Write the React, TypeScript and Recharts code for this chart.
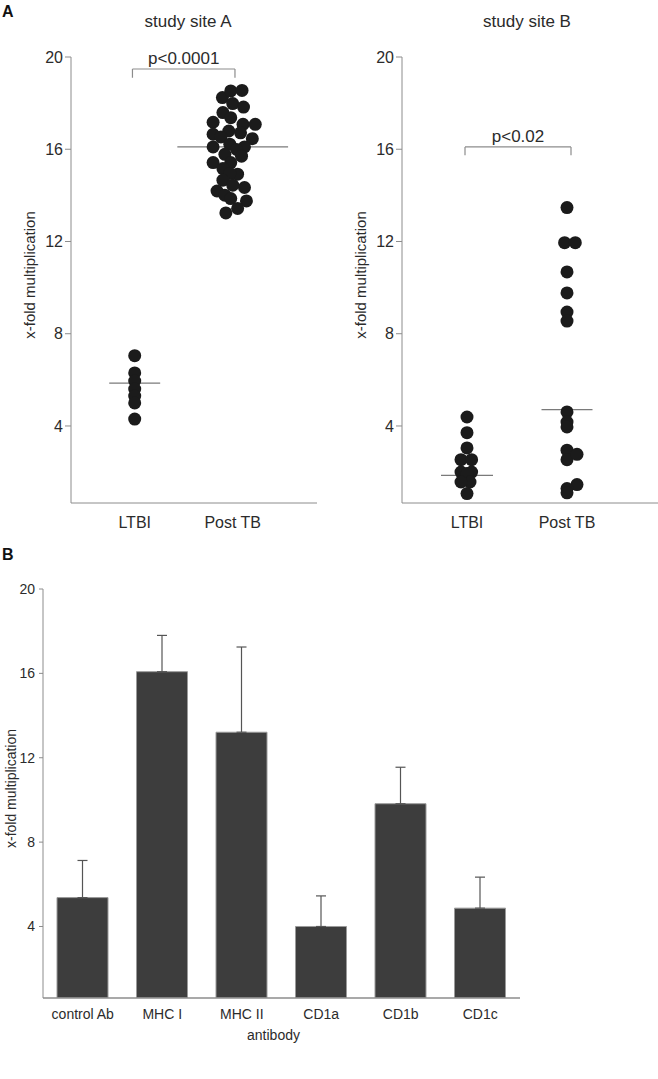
import React from 'react';
import { ScatterChart, Scatter, XAxis, YAxis, ReferenceLine, BarChart, Bar, ErrorBar } from 'recharts';

// groups and ticks
const groups = ['LTBI', 'Post TB'];
const yTicks = [4, 8, 12, 16, 20];

// study site A
const siteALtbi = [7.05, 6.3, 5.95, 5.6, 5.3, 5.0, 4.3];
const siteAPost = [
    18.24, 18.53, 18.55, 17.98, 17.83, 17.59, 17.37, 17.17, 17.08, 17.08, 16.79, 16.65,
    16.71, 16.46, 16.53, 16.1, 16.22, 16.1, 15.78, 15.99, 15.7, 15.42, 15.42, 15.16,
    14.92, 14.95, 14.66, 14.44, 14.19, 14.34, 14.01, 13.86, 13.76, 13.43, 13.24,
];
const siteAPostJitter = [
    -0.105, -0.02, 0.095, 0.0, 0.11, -0.1, -0.02, -0.2, 0.105, 0.23, -0.04, -0.2,
    0.08, 0.2, -0.12, -0.2, -0.03, 0.12, -0.08, 0.04, 0.09, -0.2, -0.02, -0.1,
    0.05, -0.03, -0.1, 0.0, -0.16, 0.12, -0.08, -0.02, 0.14, 0.05, -0.07,
];
const siteAMedians = [5.86, 16.1];

// study site B
const siteBLtbi = [4.39, 3.71, 3.05, 2.54, 2.54, 2.0, 2.0, 1.94, 1.57, 1.57, 1.07];
const siteBLtbiJitter = [0, 0, 0, -0.06, 0.046, -0.06, 0.046, 0, 0.03, -0.06, 0];
const siteBPost = [13.47, 11.95, 11.95, 10.68, 9.77, 8.94, 8.55, 4.61, 4.17, 3.96, 2.95, 2.54, 2.77, 1.46, 1.29, 1.1];
const siteBPostJitter = [0, -0.024, 0.083, 0, 0, 0, 0, 0, 0, 0, 0, 0, 0.1, 0.1, 0, 0];
const siteBMedians = [1.86, 4.71];

// panel B bars
const antibodies = ['control Ab', 'MHC I', 'MHC II', 'CD1a', 'CD1b', 'CD1c'];
const barMeans = [5.37, 16.08, 13.21, 4.0, 9.82, 4.87];
const barErrors = [1.76, 1.72, 4.04, 1.45, 1.73, 1.47];

const axisColor = '#8c8c8c';
const textColor = '#2b2b2b';
const fontFamily = '"Liberation Sans", Arial, sans-serif';

const toPoints = (vals: number[], group: number, jitter?: number[]) =>
    vals.map((y, i) => ({ x: group + (jitter ? jitter[i] : 0), y }));

const Dot = (props: any) => <circle cx={props.cx} cy={props.cy} r={6.5} fill="#1b1b1b" />;

interface SitePanelProps {
    width: number;
    marginRight: number;
    xDomain: [number, number];
    ltbi: { x: number; y: number }[];
    post: { x: number; y: number }[];
    medians: number[];
    medianHalf: number[];
    pLabel: string;
    bracket: { x1: number; x2: number; y: number; leg: number };
}

const SitePanel: React.FC<SitePanelProps> = ({ width, marginRight, xDomain, ltbi, post, medians, medianHalf, pLabel, bracket }) => (
    <ScatterChart width={width} height={535} margin={{ top: 57, right: marginRight, bottom: 2, left: 0 }}>
        <XAxis
            type="number"
            dataKey="x"
            domain={xDomain}
            ticks={[1, 2]}
            interval={0}
            allowDataOverflow
            tickFormatter={(v: number) => groups[Math.round(v) - 1]}
            tickLine={false}
            tickMargin={8}
            height={30}
            axisLine={{ stroke: axisColor }}
            tick={{ fill: textColor, fontSize: 16 }}
        />
        <YAxis
            type="number"
            dataKey="y"
            domain={[0.66, 20]}
            ticks={yTicks}
            interval={0}
            allowDataOverflow
            width={71}
            tickSize={6}
            tickMargin={2}
            axisLine={{ stroke: axisColor }}
            tickLine={{ stroke: axisColor }}
            tick={{ fill: textColor, fontSize: 16 }}
            label={{ value: 'x-fold multiplication', angle: -90, position: 'center', dx: -6, dy: -5, fill: textColor, fontSize: 15 }}
        />
        <Scatter data={ltbi} shape={Dot} isAnimationActive={false} />
        <Scatter data={post} shape={Dot} isAnimationActive={false} />
        {medians.map((m, i) => (
            <ReferenceLine
                key={'m' + i}
                segment={[{ x: i + 1 - medianHalf[i], y: m }, { x: i + 1 + medianHalf[i], y: m }]}
                stroke="#7a7a7a"
                strokeWidth={1.2}
            />
        ))}
        <ReferenceLine
            segment={[{ x: bracket.x1, y: bracket.y }, { x: bracket.x2, y: bracket.y }]}
            stroke={axisColor}
            strokeWidth={1.2}
            label={{ value: pLabel, position: 'top', fill: textColor, fontSize: 17 }}
        />
        <ReferenceLine segment={[{ x: bracket.x1, y: bracket.y }, { x: bracket.x1, y: bracket.leg }]} stroke={axisColor} strokeWidth={1.2} />
        <ReferenceLine segment={[{ x: bracket.x2, y: bracket.y }, { x: bracket.x2, y: bracket.leg }]} stroke={axisColor} strokeWidth={1.2} />
    </ScatterChart>
);

export default function App() {
    const barData = antibodies.map((name, i) => ({ name, mean: barMeans[i], err: [0, barErrors[i]] }));

    return (
        <div style={{ position: 'absolute', left: 0, top: 0, width: 658, height: 1079, background: '#fff', fontFamily, overflow: 'hidden' }}>
            <div style={{ position: 'absolute', left: 0, top: 0 }}>
                <SitePanel
                    width={330}
                    marginRight={13}
                    xDomain={[0.35, 2.86]}
                    ltbi={toPoints(siteALtbi, 1)}
                    post={toPoints(siteAPost, 2, siteAPostJitter)}
                    medians={siteAMedians}
                    medianHalf={[0.26, 0.565]}
                    pLabel="p<0.0001"
                    bracket={{ x1: 0.977, x2: 2.023, y: 19.48, leg: 19.1 }}
                />
            </div>
            <div style={{ position: 'absolute', left: 331, top: 0 }}>
                <SitePanel
                    width={327}
                    marginRight={0}
                    xDomain={[0.35, 2.91]}
                    ltbi={toPoints(siteBLtbi, 1, siteBLtbiJitter)}
                    post={toPoints(siteBPost, 2, siteBPostJitter)}
                    medians={siteBMedians}
                    medianHalf={[0.26, 0.255]}
                    pLabel="p<0.02"
                    bracket={{ x1: 0.98, x2: 2.04, y: 16.1, leg: 15.74 }}
                />
            </div>
            <div style={{ position: 'absolute', left: 0, top: 540 }}>
                <BarChart width={540} height={539} data={barData} margin={{ top: 49, right: 20, bottom: 31, left: 0 }}>
                    <XAxis
                        dataKey="name"
                        tickLine={false}
                        tickMargin={5}
                        height={50}
                        axisLine={{ stroke: axisColor, strokeWidth: 1.5 }}
                        tick={{ fill: textColor, fontSize: 14, fontFamily: '"Liberation Sans Narrow", "Liberation Sans", Arial, sans-serif' }}
                        label={{ value: 'antibody', position: 'insideBottom', offset: 8, dx: -8, fill: textColor, fontSize: 14, fontFamily: '"Liberation Sans Narrow", "Liberation Sans", Arial, sans-serif' }}
                    />
                    <YAxis
                        type="number"
                        domain={[0.61, 20]}
                        ticks={yTicks}
                        interval={0}
                        allowDataOverflow
                        width={43}
                        tickSize={4}
                        tickMargin={4}
                        axisLine={{ stroke: axisColor }}
                        tickLine={{ stroke: axisColor }}
                        tick={{ fill: textColor, fontSize: 14, fontFamily: '"Liberation Sans Narrow", "Liberation Sans", Arial, sans-serif' }}
                        label={{ value: 'x-fold multiplication', angle: -90, position: 'center', dx: -10, dy: -5, fill: textColor, fontSize: 14 }}
                    />
                    <Bar dataKey="mean" fill="#3d3d3d" stroke="#9a9a9a" strokeWidth={1} barSize={51} isAnimationActive={false}>
                        <ErrorBar dataKey="err" width={5} stroke="#555" strokeWidth={1.2} direction="y" isAnimationActive={false} />
                    </Bar>
                </BarChart>
            </div>
            <div style={{ position: 'absolute', left: 2, top: 3, fontSize: 16, fontWeight: 'bold', color: '#111' }}>A</div>
            <div style={{ position: 'absolute', left: 2, top: 546, fontSize: 16, fontWeight: 'bold', color: '#111' }}>B</div>
            <div style={{ position: 'absolute', left: 88, top: 12, width: 200, textAlign: 'center', fontSize: 17, lineHeight: '20px', color: textColor }}>
                study site A
            </div>
            <div style={{ position: 'absolute', left: 427, top: 12, width: 200, textAlign: 'center', fontSize: 17, lineHeight: '20px', color: textColor }}>
                study site B
            </div>
        </div>
    );
}
